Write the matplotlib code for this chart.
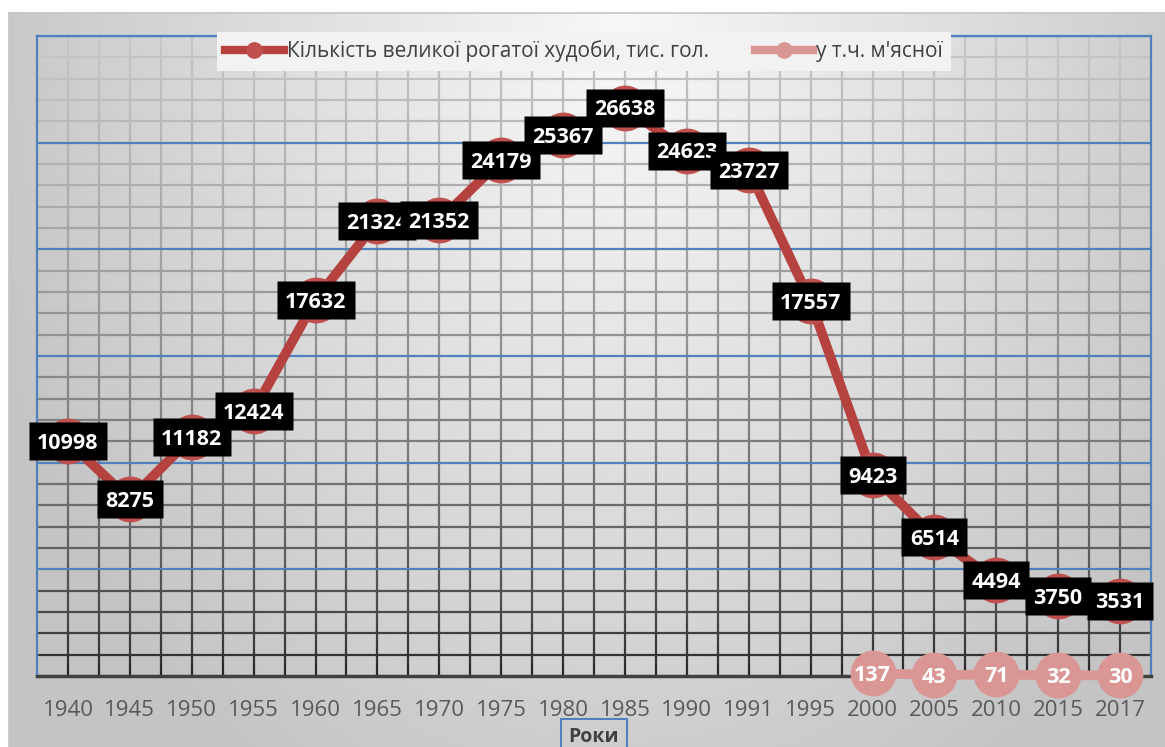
import numpy as np
import matplotlib
matplotlib.use('Agg')
import matplotlib.pyplot as plt
from matplotlib.collections import LineCollection
from matplotlib.lines import Line2D
from matplotlib.path import Path

plt.rcParams['font.family'] = ['Open Sans', 'DejaVu Sans']

# Data
years = ['1940', '1945', '1950', '1955', '1960', '1965', '1970', '1975', '1980',
         '1985', '1990', '1991', '1995', '2000', '2005', '2010', '2015', '2017']
cattle = [10998, 8275, 11182, 12424, 17632, 21324, 21352, 24179, 25367,
          26638, 24623, 23727, 17557, 9423, 6514, 4494, 3750, 3531]
beef_years = ['2000', '2005', '2010', '2015', '2017']
beef = [137, 43, 71, 32, 30]

name1 = 'Кількість великої рогатої худоби, тис. гол.'
name2 = "у т.ч. м'ясної"
xlabel = 'Роки'

W, H = 1165, 747
fig = plt.figure(figsize=(W / 100, H / 100), dpi=100)

# background gradient
bg = fig.add_axes([0, 0, 1, 1], zorder=0)
X, Y = np.meshgrid(np.arange(W), np.arange(H))
d = np.sqrt(((X - 620) / 620) ** 2 + ((Y - 40) / 800) ** 2)
val = np.clip(248 - 48 * d, 196, 250) / 255
img = np.dstack([val, val, val])
img[Y < 13] = 1.0
img[X < 9] = 1.0
bg.imshow(img, extent=(0, W, H, 0), aspect='auto', interpolation='bilinear')
bg.plot([9, W], [13, 13], color='#c4c4c4', lw=1.2)
bg.plot([9, 9], [13, H], color='#c4c4c4', lw=1.2)
bg.set_xlim(0, W)
bg.set_ylim(H, 0)
bg.axis('off')

# main axes
ax = fig.add_axes([37 / W, (H - 676) / H, (1151 - 37) / W, (676 - 36) / H], zorder=1)
ax.patch.set_alpha(0)
x = np.arange(len(years))
ax.set_xlim(-0.5, len(years) - 0.5)
ax.set_ylim(0, 30000)


def grid_color(v):
    g = 0.12 + 0.66 * (v / 30000) ** 0.6
    return (g, g, g)


# vertical grid lines with gradient
segs, cols = [], []
ys = np.arange(0, 30001, 500)
for k in np.arange(0, len(years) - 0.5, 0.5):
    for y0, y1 in zip(ys[:-1], ys[1:]):
        segs.append([(k, y0), (k, y1)])
        cols.append(grid_color((y0 + y1) / 2))
ax.add_collection(LineCollection(segs, colors=cols, linewidths=1.6, zorder=1))

# horizontal grid lines
for v in range(1000, 30000, 1000):
    if v % 5000 == 0:
        continue
    ax.axhline(v, color=grid_color(v), lw=1.6, zorder=1)
for v in range(5000, 30001, 5000):
    ax.axhline(v, color='#4F81BD', lw=1.6, zorder=1.5)

for s in ['left', 'right', 'top']:
    ax.spines[s].set_color('#4F81BD')
    ax.spines[s].set_linewidth(1.6)
ax.spines['bottom'].set_color('#404040')
ax.spines['bottom'].set_linewidth(2.5)

ax.set_yticks([])
ax.set_xticks(x)
ax.set_xticklabels(years, fontsize=16, color='#595959')
ax.tick_params(axis='x', length=0, pad=17)

FS = 15.5


def label(xi, v, z, box=True):
    s = str(v)
    if box:
        wpx = 12.2 * len(s) + 17
        hpx = 39
        r = hpx / wpx
        rect = Path([(-1, -r), (1, -r), (1, r), (-1, r), (-1, -r)],
                    [Path.MOVETO, Path.LINETO, Path.LINETO, Path.LINETO, Path.CLOSEPOLY])
        ax.plot([xi], [v], ls='none', marker=rect, ms=wpx / 1.389, color='black',
                mec='none', zorder=z, clip_on=False)
    ax.annotate(s, (xi, v), xytext=(0, -0.357 * FS), textcoords='offset points',
                ha='center', va='baseline', fontsize=FS, fontweight='bold',
                color='white', zorder=z + 0.5, annotation_clip=False)


# series 1
ax.plot(x, cattle, color='#B5423F', lw=7, zorder=3, solid_capstyle='round')
ax.plot(x, cattle, 'o', ms=33, color='#C0504D', mec='none', zorder=4)
for i, (xi, v) in enumerate(zip(x, cattle)):
    label(xi, v, 6 + i)

# series 2
bx = [years.index(y) for y in beef_years]
ax.plot(bx, beef, color='#D99694', lw=7, zorder=3, clip_on=False)
ax.plot(bx, beef, 'o', ms=33, color='#D99694', mec='none', zorder=4, clip_on=False)
for xi, v in zip(bx, beef):
    label(xi, v, 30, box=False)

# legend
h1 = Line2D([0], [0], color='#B5423F', lw=6, marker='o', ms=11, mfc='#C0504D', mec='#C0504D')
h2 = Line2D([0], [0], color='#D99694', lw=6, marker='o', ms=11, mfc='#D99694', mec='#D99694')
leg = fig.legend([h1, h2], [name1, name2], loc='center', ncol=2,
                 bbox_to_anchor=(584 / W, 1 - 51.5 / H), fontsize=15,
                 frameon=True, fancybox=False, handlelength=2.8, handletextpad=0.15,
                 columnspacing=2.2, borderpad=0.4)
leg.get_frame().set_facecolor('#f2f2f2')
leg.get_frame().set_edgecolor('none')
leg.get_frame().set_alpha(1)
leg.set_zorder(10)
for t in leg.get_texts():
    t.set_color('#404040')

# axis title
fig.text(594 / W, 1 - 737 / H, xlabel, ha='center', va='center', fontsize=14,
         fontweight='bold', color='#404040', zorder=10,
         bbox=dict(boxstyle='square,pad=0.4', fc='none', ec='#4F81BD', lw=1.5))

fig.savefig('out.png', dpi=100)
